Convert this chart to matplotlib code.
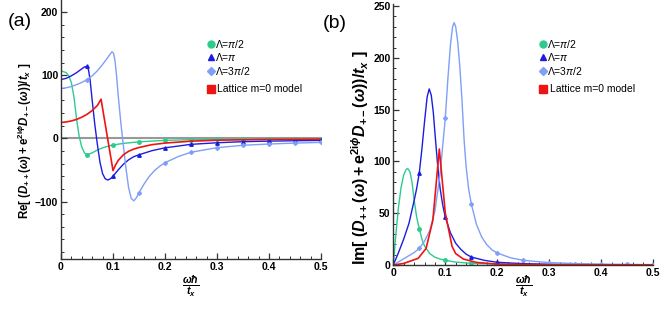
import matplotlib
matplotlib.use("Agg")
import matplotlib.pyplot as plt
from matplotlib.ticker import MultipleLocator
import numpy as np

plt.rcParams['font.family'] = ['Liberation Sans', 'DejaVu Sans']
plt.rcParams['mathtext.fontset'] = 'custom'
plt.rcParams['mathtext.rm'] = 'Liberation Sans'
plt.rcParams['mathtext.it'] = 'Liberation Sans:italic'
plt.rcParams['mathtext.bf'] = 'Liberation Sans:bold'
plt.rcParams['mathtext.sf'] = 'Liberation Sans:bold:italic'

# ---- panel (a): real part ----
green_re_x = [0, 0.01, 0.015, 0.02, 0.025, 0.03, 0.035, 0.04, 0.045, 0.05, 0.06, 0.07,
              0.08, 0.09, 0.1, 0.12, 0.15, 0.2, 0.25, 0.3, 0.35, 0.4, 0.45, 0.5]
green_re_y = [107, 104, 99, 88, 65, 30, 3, -14, -23, -26, -23, -18.5,
              -15, -12.5, -10.5, -8, -5.5, -3.2, -2.1, -1.5, -1.1, -0.9, -0.7, -0.6]

blue_re_x = [0, 0.01, 0.02, 0.03, 0.04, 0.045, 0.05, 0.053, 0.056, 0.06, 0.065, 0.07,
             0.075, 0.08, 0.085, 0.09, 0.095, 0.1, 0.11, 0.12, 0.13, 0.14, 0.15, 0.175,
             0.2, 0.25, 0.3, 0.35, 0.4, 0.45, 0.5]
blue_re_y = [93, 95, 99, 104, 110, 113, 114, 108, 92, 60, 22, -10,
             -38, -56, -64, -66, -64, -60, -50, -41, -34, -29, -26, -19.5,
             -15, -9.5, -7, -5.3, -4.4, -3.8, -3.3]

lblue_re_x = [0, 0.01, 0.02, 0.03, 0.04, 0.05, 0.06, 0.07, 0.08, 0.09, 0.095, 0.098,
              0.101, 0.104, 0.107, 0.11, 0.115, 0.12, 0.125, 0.13, 0.135, 0.14, 0.145,
              0.15, 0.16, 0.17, 0.18, 0.19, 0.2, 0.225, 0.25, 0.3, 0.35, 0.4, 0.45, 0.5]
lblue_re_y = [79, 80, 82, 85, 88.5, 93, 99, 107, 117, 128, 134, 137,
              135, 122, 98, 68, 25, -12, -48, -78, -95, -99, -94,
              -86, -72, -60, -51, -44, -38.6, -29, -22, -14.8, -11, -9, -7.5, -6.5]

red_re_x = [0, 0.01, 0.02, 0.03, 0.04, 0.05, 0.06, 0.07, 0.077, 0.1, 0.105, 0.11,
            0.12, 0.13, 0.14, 0.15, 0.175, 0.2, 0.25, 0.3, 0.35, 0.4, 0.45, 0.5]
red_re_y = [25, 26, 27.5, 30, 33.5, 38, 44, 52, 62, -51, -42, -35,
            -26, -20.5, -17, -14.5, -10, -7.5, -4.5, -3, -2.3, -1.8, -1.5, -1.3]

# ---- panel (b): imaginary part ----
green_im_x = [0, 0.005, 0.01, 0.015, 0.02, 0.025, 0.028, 0.032, 0.036, 0.04, 0.045, 0.05,
              0.055, 0.06, 0.07, 0.08, 0.09, 0.1, 0.12, 0.15, 0.2, 0.25, 0.3, 0.35, 0.4,
              0.45, 0.5]
green_im_y = [0, 30, 56, 75, 87, 92.5, 93, 90, 80, 63, 46, 35,
              25, 18.5, 11, 7.5, 5.7, 4.5, 2.8, 1.6, 0.8, 0.5, 0.3, 0.2, 0.15,
              0.1, 0.1]

blue_im_x = [0, 0.01, 0.02, 0.03, 0.04, 0.045, 0.05, 0.055, 0.06, 0.065, 0.069, 0.073,
             0.077, 0.08, 0.085, 0.09, 0.095, 0.1, 0.11, 0.12, 0.13, 0.14, 0.15, 0.175,
             0.2, 0.25, 0.3, 0.35, 0.4, 0.45, 0.5]
blue_im_y = [0, 12, 25, 40, 62, 74, 89, 112, 138, 162, 170, 164,
             147, 128, 98, 74, 58, 46, 31, 21, 15, 10.5, 7.7, 4.5,
             2.6, 1.3, 0.7, 0.45, 0.3, 0.2, 0.15]

lblue_im_x = [0, 0.01, 0.02, 0.03, 0.04, 0.05, 0.06, 0.07, 0.08, 0.09, 0.1, 0.105,
              0.11, 0.114, 0.117, 0.12, 0.124, 0.128, 0.132, 0.136, 0.14, 0.145, 0.15,
              0.16, 0.17, 0.18, 0.19, 0.2, 0.225, 0.25, 0.3, 0.35, 0.4, 0.45, 0.5]
lblue_im_y = [0, 3, 6, 9, 12, 16, 23, 33, 52, 88, 142, 180,
              213, 230, 234, 230, 215, 191, 160, 122, 95, 73, 59,
              39, 27, 19.5, 14.5, 11.6, 7, 4.5, 2.3, 1.4, 0.9, 0.6, 0.4]

red_im_x = [0, 0.02, 0.048, 0.063, 0.076, 0.0885, 0.1, 0.113, 0.12, 0.135, 0.16, 0.2,
            0.3, 0.4, 0.5]
red_im_y = [0, 1.5, 6.5, 16, 43, 112, 50, 18, 11, 5.7, 2.5, 0.8,
            0.3, 0.15, 0.1]

GREEN = '#2ecb8e'
BLUE = '#1c1ce0'
LBLUE = '#7f9ff8'
RED = '#ee1414'

legend_labels = [r'$\mathrm{\Lambda}$=$\pi$/2', r'$\mathrm{\Lambda}$=$\pi$',
                 r'$\mathrm{\Lambda}$=3$\pi$/2', 'Lattice m=0 model']

YLABEL = (r'$\mathbf{%s[\ (}\mathsf{D}_{\mathbf{++}}\mathbf{(}\mathsf{\omega}\mathbf{)+e}^{\mathbf{2i}\mathsf{\phi}}'
          r'\mathsf{D}_{\mathbf{+-}}\mathbf{(}\mathsf{\omega}\mathbf{))/}\mathsf{t}_{\mathsf{x}}\mathbf{\ ]}$')


def mark_idx(x):
    # markers sit on every multiple of 0.05
    return [i for i, v in enumerate(x) if v > 0 and abs(v / 0.05 - round(v / 0.05)) < 1e-6]


def style_axes(ax, ymajor, yminor):
    for s in ['top', 'right']:
        ax.spines[s].set_visible(False)
    for s in ['left', 'bottom']:
        ax.spines[s].set_color('#333333')
        ax.spines[s].set_linewidth(1.0)
    ax.set_xlim(0, 0.5)
    ax.xaxis.set_major_locator(MultipleLocator(0.1))
    ax.xaxis.set_minor_locator(MultipleLocator(0.02))
    ax.yaxis.set_major_locator(MultipleLocator(ymajor))
    ax.yaxis.set_minor_locator(MultipleLocator(yminor))
    ax.tick_params(which='both', direction='in', color='#333333', labelsize=7.5, pad=2)
    ax.tick_params(which='major', length=4, width=0.9)
    ax.tick_params(which='minor', length=2.5, width=0.7)
    ax.set_xticks([0, 0.1, 0.2, 0.3, 0.4, 0.5])
    ax.set_xticklabels(['0', '0.1', '0.2', '0.3', '0.4', '0.5'])
    for lab in ax.get_xticklabels() + ax.get_yticklabels():
        lab.set_fontweight('bold')
    ax.set_xlabel(r'$\mathsf{\frac{\omega\hbar}{t_x}}$', fontsize=11)


def draw_legend(ax, x0, y0, dy):
    ax.plot([x0], [y0], 'o', color=GREEN, ms=5, transform=ax.transAxes, clip_on=False)
    ax.plot([x0], [y0 - dy], '^', color=BLUE, ms=5, transform=ax.transAxes, clip_on=False)
    ax.plot([x0], [y0 - 2 * dy], 'D', color=LBLUE, ms=4, transform=ax.transAxes, clip_on=False)
    ax.plot([x0], [y0 - 3.35 * dy], 's', color=RED, ms=6, transform=ax.transAxes, clip_on=False)
    for k, lab in enumerate(legend_labels):
        off = 3.35 if k == 3 else k
        xt = x0 + (0.025 if k == 3 else 0.015)
        ax.text(xt, y0 - off * dy, lab, transform=ax.transAxes, fontsize=7.5,
                va='center', ha='left')


def draw_series(ax, gx, gy, bx, by, lx, ly, rx, ry):
    ax.plot(gx, gy, '-o', color=GREEN, lw=1.0, ms=2.5, markevery=mark_idx(gx))
    ax.plot(bx, by, '-^', color=BLUE, lw=1.0, ms=2.5, markevery=mark_idx(bx))
    ax.plot(lx, ly, '-D', color=LBLUE, lw=1.0, ms=2.0, markevery=mark_idx(lx))
    ax.plot(rx, ry, '-', color=RED, lw=1.2)


fig = plt.figure(figsize=(6.64, 3.09), dpi=100)

ax1 = fig.add_axes([61 / 664, 1 - 259.3 / 309, 260 / 664, 259.3 / 309])
ax1.axhline(0, color='#999999', lw=1.5, zorder=1)
draw_series(ax1, green_re_x, green_re_y, blue_re_x, blue_re_y,
            lblue_re_x, lblue_re_y, red_re_x, red_re_y)
ax1.set_ylim(-191.5, 219)
style_axes(ax1, 100, 20)
ax1.set_ylabel(YLABEL % 'Re', fontsize=8.3)
ax1.yaxis.set_label_coords(-0.104, 0.456)
ax1.xaxis.set_label_coords(0.5, -0.052)
draw_legend(ax1, (210.7 - 61) / 260, (259.3 - 44) / 259.3, 13.3 / 259.3)

ax2 = fig.add_axes([393.3 / 664, 1 - 265 / 309, 260 / 664, 261 / 309])
draw_series(ax2, green_im_x, green_im_y, blue_im_x, blue_im_y,
            lblue_im_x, lblue_im_y, red_im_x, red_im_y)
ax2.set_ylim(0, 252)
style_axes(ax2, 50, 10)
ax2.set_ylabel(YLABEL % 'Im', fontsize=11.5)
ax2.yaxis.set_label_coords(-0.084, 0.41)
ax2.xaxis.set_label_coords(0.5, -0.03)
draw_legend(ax2, (543.3 - 393.3) / 260, (265 - 44) / 261, 13.3 / 261)

fig.text(8 / 664, 1 - 21 / 309, '(a)', fontsize=14, va='center', ha='left')
fig.text(323 / 664, 1 - 23 / 309, '(b)', fontsize=14, va='center', ha='left')

fig.savefig('out.png', dpi=100)
